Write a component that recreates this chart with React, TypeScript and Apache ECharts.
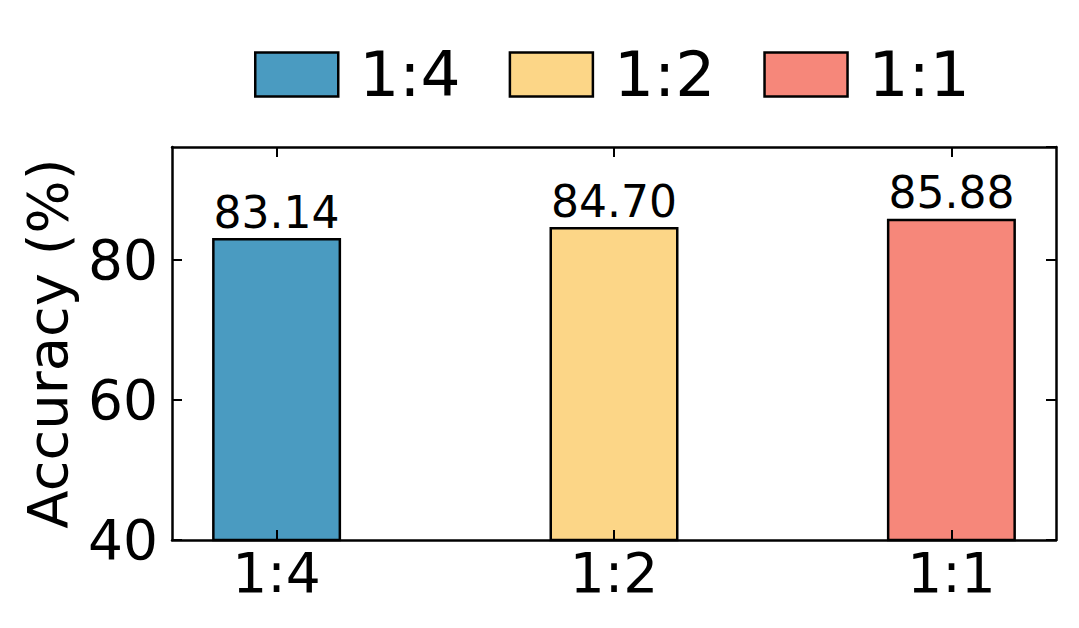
import React, { useEffect, useRef } from "react";
import * as echarts from "echarts";

const categories = ["1:4", "1:2", "1:1"];
const accuracy = [83.14, 84.7, 85.88];
const colors = ["#4A9BC1", "#FCD687", "#F6877A"];
const yTicks = [40, 60, 80];

const FONT = "DejaVu Sans";

export default function App() {
  const ref = useRef<HTMLDivElement>(null);
  useEffect(() => {
    const chart = echarts.init(ref.current!, null, { renderer: "svg" });
    const series = categories.map((c, i) => ({
      name: c,
      type: "bar",
      barWidth: 129,
      barGap: "-100%",
      data: [[i, accuracy[i]]],
      itemStyle: { color: colors[i], borderColor: "#000", borderWidth: 2.5 },
      label: {
        show: true,
        position: "top",
        distance: 4,
        formatter: () => accuracy[i].toFixed(2),
        color: "#000",
        fontFamily: FONT,
        fontSize: 44,
      },
      z: 2,
    }));
    const tickIdx = categories.map((_, i) => i);
    chart.setOption({
      animation: false,
      textStyle: { fontFamily: FONT },
      legend: {
        top: 38,
        left: 249,
        itemWidth: 83,
        itemHeight: 44,
        itemGap: 48,
        icon: "rect",
        data: categories.map((c, i) => ({
          name: c,
          itemStyle: { color: colors[i], borderColor: "#000", borderWidth: 2.5 },
        })),
        textStyle: { fontSize: 63, fontFamily: FONT, color: "#000", padding: [0, 0, 0, 16] },
      },
      grid: { left: 172, right: 23, top: 147, bottom: 88, containLabel: false },
      xAxis: [
        {
          type: "value",
          min: -0.31,
          max: 2.31,
          position: "bottom",
          axisLine: { show: true, onZero: false, lineStyle: { color: "#000", width: 2.5 } },
          axisTick: { show: true, inside: true, length: 10, customValues: tickIdx, lineStyle: { color: "#000", width: 2 } },
          axisLabel: {
            customValues: tickIdx,
            formatter: (v: number) => categories[Math.round(v)] ?? "",
            fontSize: 55,
            color: "#000",
            fontFamily: FONT,
            margin: 5,
          },
          splitLine: { show: false },
          z: 5,
        },
        {
          type: "value",
          min: -0.31,
          max: 2.31,
          position: "top",
          axisLine: { show: true, onZero: false, lineStyle: { color: "#000", width: 2.5 } },
          axisTick: { show: true, inside: true, length: 10, customValues: tickIdx, lineStyle: { color: "#000", width: 2 } },
          axisLabel: { show: false },
          splitLine: { show: false },
          z: 5,
        },
      ],
      yAxis: [
        {
          type: "value",
          min: 40,
          max: 96.14,
          interval: 20,
          position: "left",
          name: "Accuracy (%)",
          nameLocation: "middle",
          nameGap: 97,
          nameTextStyle: { fontSize: 56, color: "#000", fontFamily: FONT },
          axisLine: { show: true, onZero: false, lineStyle: { color: "#000", width: 2.5 } },
          axisTick: { show: true, inside: true, length: 10, lineStyle: { color: "#000", width: 2 } },
          axisLabel: {
            fontSize: 55,
            color: "#000",
            fontFamily: FONT,
            margin: 14,
            showMaxLabel: false,
            formatter: (v: number) => (yTicks.includes(v) ? String(v) : ""),
          },
          splitLine: { show: false },
          z: 5,
        },
        {
          type: "value",
          min: 40,
          max: 96.14,
          interval: 20,
          position: "right",
          axisLine: { show: true, onZero: false, lineStyle: { color: "#000", width: 2.5 } },
          axisTick: { show: true, inside: true, length: 10, lineStyle: { color: "#000", width: 2 } },
          axisLabel: { show: false },
          splitLine: { show: false },
          z: 5,
        },
      ],
      series,
    });
    return () => chart.dispose();
  }, []);
  return (
    <div
      ref={ref}
      style={{ position: "fixed", left: 0, top: 0, width: 1079, height: 628, background: "#fff" }}
    />
  );
}
